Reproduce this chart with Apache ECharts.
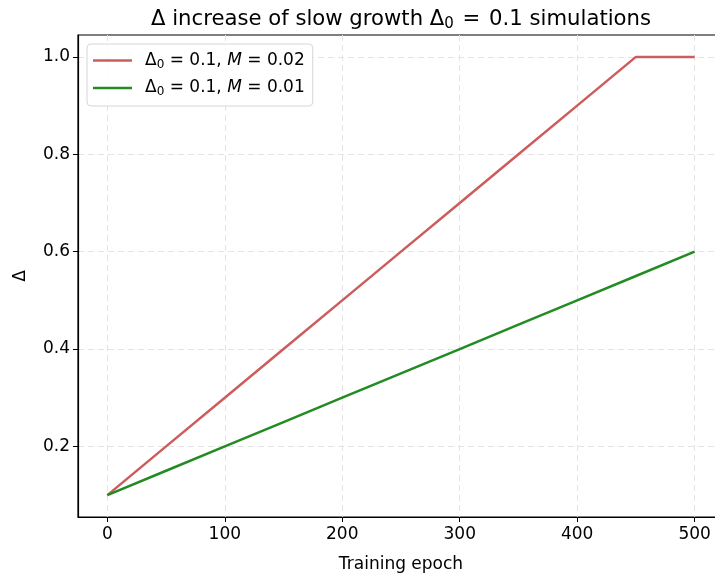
<!DOCTYPE html>
<html>
<head>
<meta charset="utf-8">
<script src="https://cdn.jsdelivr.net/npm/echarts@6/dist/echarts.min.js"></script>
<style>
  html, body { margin: 0; padding: 0; background: #fff; overflow: hidden; }
  #chart { width: 715px; height: 574px; }
</style>
</head>
<body>
<div id="chart"></div>
<script>
// Training epochs sampled along each run
const epochs = [0, 50, 100, 150, 200, 250, 300, 350, 400, 450, 500];
// Δ for Δ0 = 0.1, M = 0.02 (saturates at 1.0)
const deltaM002 = [0.1, 0.2, 0.3, 0.4, 0.5, 0.6, 0.7, 0.8, 0.9, 1.0, 1.0];
// Δ for Δ0 = 0.1, M = 0.01
const deltaM001 = [0.1, 0.15, 0.2, 0.25, 0.3, 0.35, 0.4, 0.45, 0.5, 0.55, 0.6];
const xTicks = [0, 100, 200, 300, 400, 500];
const yTicks = [0.2, 0.4, 0.6, 0.8, 1.0];

const FONT = 'DejaVu Sans';
const RED = '#cd5c5c';
const GREEN = '#228b22';
const chart = echarts.init(document.getElementById('chart'));

const pairs = (xs, ys) => xs.map((x, i) => [x, ys[i]]);

const legendRich = {
  g: { width: 8, height: 20 },
  base: { fontFamily: FONT, fontSize: 17, color: '#000', lineHeight: 20 },
  sub: { fontFamily: FONT, fontSize: 12, color: '#000', padding: [8, 0, 0, 0] },
  it: { fontFamily: FONT, fontSize: 17, fontStyle: 'italic', color: '#000', lineHeight: 20 }
};

const gridLine = { show: true, lineStyle: { color: '#e4e4e4', type: [6, 4], width: 1 } };

chart.setOption({
  animation: false,
  backgroundColor: '#fff',
  title: {
    text: '{b|Δ increase of slow growth Δ}{s|0}{b| }{e|=}{b| 0.1 simulations}',
    left: 396,
    textAlign: 'center',
    top: 2,
    textStyle: {
      rich: {
        b: { fontFamily: FONT, fontSize: 21.2, fontWeight: 'normal', color: '#000' },
        e: { fontFamily: FONT, fontSize: 21.2, fontWeight: 'normal', color: '#000', padding: [0, 2, 0, 2] },
        s: { fontFamily: FONT, fontSize: 15, fontWeight: 'normal', color: '#000', padding: [10, 0, 0, 0] }
      }
    }
  },
  grid: {
    left: 78, top: 35, width: 646, height: 482, containLabel: false, outerBoundsMode: 'none',
    show: true, borderColor: '#000', borderWidth: 1.2
  },
  legend: {
    left: 87,
    top: 44,
    orient: 'vertical',
    padding: [8, 8, 8, 6],
    itemGap: 9,
    itemWidth: 39,
    itemHeight: 2.7,
    icon: 'rect',
    borderColor: '#d6d6d6',
    borderWidth: 1,
    borderRadius: 4,
    backgroundColor: 'rgba(255,255,255,0.85)',
    data: ['M002', 'M001'],
    formatter: name => name === 'M002'
      ? '{g|}{base|Δ}{sub|0}{base| = 0.1, }{it|M}{base| = 0.02}'
      : '{g|}{base|Δ}{sub|0}{base| = 0.1, }{it|M}{base| = 0.01}',
    textStyle: { rich: legendRich }
  },
  xAxis: {
    type: 'value',
    min: -25,
    max: 525,
    name: 'Training epoch',
    nameLocation: 'middle',
    nameGap: 39,
    nameTextStyle: { fontFamily: FONT, fontSize: 17, color: '#000' },
    axisLine: { show: true, onZero: false, lineStyle: { color: '#000', width: 1.2 } },
    axisTick: { show: true, customValues: xTicks, length: 5, lineStyle: { color: '#000' } },
    axisLabel: { customValues: xTicks, fontFamily: FONT, fontSize: 17, color: '#000', margin: 9 },
    splitLine: gridLine
  },
  yAxis: {
    type: 'value',
    min: 0.055,
    max: 1.045,
    name: 'Δ',
    nameLocation: 'middle',
    nameGap: 49,
    nameRotate: 90,
    nameTextStyle: { fontFamily: FONT, fontSize: 17, color: '#000' },
    axisLine: { show: true, onZero: false, lineStyle: { color: '#000', width: 1.2 } },
    axisTick: { show: true, customValues: yTicks, length: 5, lineStyle: { color: '#000' } },
    axisLabel: { customValues: yTicks, fontFamily: FONT, fontSize: 17, color: '#000', margin: 8,
      formatter: v => v.toFixed(1) },
    splitLine: gridLine
  },
  series: [
    {
      name: 'M002', type: 'line', data: pairs(epochs, deltaM002),
      symbol: 'none', lineStyle: { color: RED, width: 2.5 }, itemStyle: { color: RED }
    },
    {
      name: 'M001', type: 'line', data: pairs(epochs, deltaM001),
      symbol: 'none', lineStyle: { color: GREEN, width: 2.5 }, itemStyle: { color: GREEN }
    }
  ]
});
</script>
</body>
</html>
